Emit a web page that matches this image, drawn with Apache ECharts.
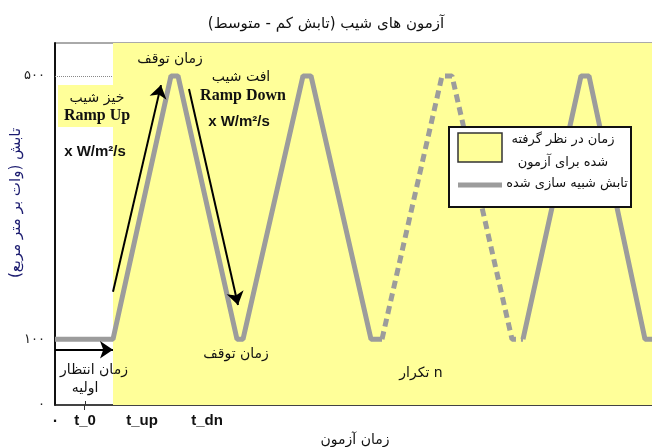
<!DOCTYPE html>
<html>
<head>
<meta charset="utf-8">
<script src="https://cdn.jsdelivr.net/npm/echarts@6/dist/echarts.min.js"></script>
<style>
  html, body { margin: 0; padding: 0; background: #fff; }
  #chart { width: 652px; height: 447px; }
</style>
</head>
<body>
<div id="chart"></div>
<script>
// پروفایل تابش در آزمون شیب (زمان، تابش)
const rampSolidA = [[0, 100], [58, 100], [116, 500], [123, 500], [182, 100], [188, 100], [248, 500], [256, 500], [316, 100], [327, 100]];
const rampDashed = [[327, 100], [387, 500], [397, 500], [457, 100], [468, 100]];
const rampSolidB = [[468, 100], [526, 500], [534, 500], [590, 100], [597, 100], [600, 100]];

// بازه زمان آزمون (ناحیه زرد)
const testStart = 58;
const testEnd = 600;

// برچسب های محورها
const xTickValues = [0, 30, 87, 152];
const xTickLabels = ['۰', 't_0', 't_up', 't_dn'];
const yTickValues = [0, 100, 500];
const yTickLabels = ['۰', '۱۰۰', '۵۰۰'];

// فلش ها: [شروع, پایان]
const arrows = [
  [[58, 172], [106, 486]],
  [[134, 480], [183, 152]],
  [[0, 84], [58, 84]]
];

const YELLOW = '#ffff99';
const GRAY = '#9c9c9c';
const AR = 'DejaVu Sans';

let chart = echarts.init(document.getElementById('chart'));

function txt(x, y, text, font, fill, rotation) {
  return {
    type: 'text', x: x, y: y, z: 100, rotation: rotation || 0,
    style: { text: text, font: font, fill: fill || '#111', align: 'center', verticalAlign: 'middle' }
  };
}

let option = {
  backgroundColor: '#fff',
  animation: false,
  title: {
    text: 'آزمون های شیب (تابش کم - متوسط)\u200f',
    left: 'center',
    top: 12,
    textStyle: { fontFamily: AR, fontSize: 15, fontWeight: 'normal', color: '#111' }
  },
  grid: {
    left: 55, top: 43, width: 600, bottom: 42,
    show: true, borderColor: '#555', borderWidth: 1,
    outerBoundsMode: 'none'
  },
  xAxis: [
    {
      type: 'value', min: 0, max: 600,
      name: 'زمان آزمون', nameLocation: 'middle', nameGap: 28,
      nameTextStyle: { fontFamily: AR, fontSize: 14, color: '#111' },
      axisLine: { show: true, onZero: false, lineStyle: { color: '#222', width: 1.5 } },
      axisTick: { show: true, inside: true, length: 4, customValues: [30], lineStyle: { color: '#333' } },
      axisLabel: {
        customValues: xTickValues,
        formatter: v => xTickLabels[xTickValues.indexOf(v)],
        fontFamily: 'Liberation Sans', fontWeight: 'bold', fontSize: 15, color: '#111', margin: 8
      },
      splitLine: { show: false }
    },
    {
      type: 'value', min: 0, max: 600, position: 'top',
      axisLine: { show: false },
      axisTick: { show: true, inside: true, length: 5, customValues: [29], lineStyle: { color: '#333' } },
      axisLabel: { show: false },
      splitLine: { show: false }
    }
  ],
  yAxis: {
    type: 'value', min: 0, max: 550,
    axisLine: { show: true, lineStyle: { color: '#111', width: 2 } },
    axisTick: { show: false },
    axisLabel: {
      customValues: yTickValues,
      formatter: v => yTickLabels[yTickValues.indexOf(v)],
      fontFamily: AR, fontSize: 13, color: '#222', margin: 10
    },
    splitLine: { show: false }
  },
  series: [
    {
      type: 'line', data: [], z: 1, silent: true,
      markArea: {
        silent: true,
        itemStyle: { color: YELLOW, opacity: 1 },
        data: [[{ xAxis: testStart }, { xAxis: testEnd }]]
      },
      markLine: {
        silent: true, symbol: 'none',
        label: { show: false },
        lineStyle: { color: '#888', type: 'dotted', width: 1 },
        data: [[{ coord: [0, 500] }, { coord: [testStart, 500] }]]
      }
    },
    {
      name: 'تابش شبیه سازی شده', type: 'line', data: rampSolidA, z: 3,
      symbol: 'none', lineStyle: { color: GRAY, width: 5 }
    },
    {
      name: 'تابش شبیه سازی شده', type: 'line', data: rampDashed, z: 3,
      symbol: 'none', lineStyle: { color: GRAY, width: 5, type: [8, 5] }
    },
    {
      name: 'تابش شبیه سازی شده', type: 'line', data: rampSolidB, z: 3,
      symbol: 'none', lineStyle: { color: GRAY, width: 5 }
    },
    {
      type: 'line', data: [], z: 4, silent: true,
      markLine: {
        silent: true,
        symbol: ['none', 'arrow'], symbolSize: 13,
        label: { show: false },
        lineStyle: { color: '#000', type: 'solid', width: 2 },
        data: arrows.map(a => [{ coord: a[0] }, { coord: a[1] }])
      }
    }
  ],
  graphic: [
    // عنوان محور عمودی
    txt(16, 203, 'تابش (وات بر متر مربع)\u200f', '15px "DejaVu Sans"', '#1c1c70', Math.PI / 2),
    // کادر زرد پشت خیز شیب
    { type: 'rect', z: 90, shape: { x: 58, y: 85, width: 76, height: 42 }, style: { fill: YELLOW } },
    txt(170, 59, 'زمان توقف', '14px "DejaVu Sans"'),
    txt(97, 98, 'خیز شیب', '14px "DejaVu Sans"'),
    txt(97, 116, 'Ramp Up', 'bold 16px "Liberation Serif"'),
    txt(95, 152, 'x W/m²/s', 'bold 15px "Liberation Sans"'),
    txt(241, 77, 'افت شیب', '14px "DejaVu Sans"'),
    txt(243, 96, 'Ramp Down', 'bold 16px "Liberation Serif"'),
    txt(239, 122, 'x W/m²/s', 'bold 15px "Liberation Sans"'),
    txt(236, 354, 'زمان توقف', '14px "DejaVu Sans"'),
    txt(94, 370, 'زمان انتظار', '14px "DejaVu Sans"'),
    txt(85, 388, 'اولیه', '14px "DejaVu Sans"'),
    txt(421, 373, 'تکرار n', '14px "DejaVu Sans"'),
    // راهنما
    { type: 'rect', z: 95, shape: { x: 449, y: 127, width: 182, height: 80 }, style: { fill: '#fff', stroke: '#111', lineWidth: 2 } },
    { type: 'rect', z: 96, shape: { x: 458, y: 133, width: 44, height: 29 }, style: { fill: YELLOW, stroke: '#333', lineWidth: 1.5 } },
    { type: 'line', z: 96, shape: { x1: 458, y1: 185, x2: 502, y2: 185 }, style: { stroke: GRAY, lineWidth: 5 } },
    txt(563, 140, 'زمان در نظر گرفته', '13px "DejaVu Sans"'),
    txt(563, 163, 'شده برای آزمون', '13px "DejaVu Sans"'),
    txt(567, 184, 'تابش شبیه سازی شده', '13px "DejaVu Sans"')
  ]
};

chart.setOption(option);
window.addEventListener('resize', () => { chart.resize(); });
</script>
</body>
</html>
